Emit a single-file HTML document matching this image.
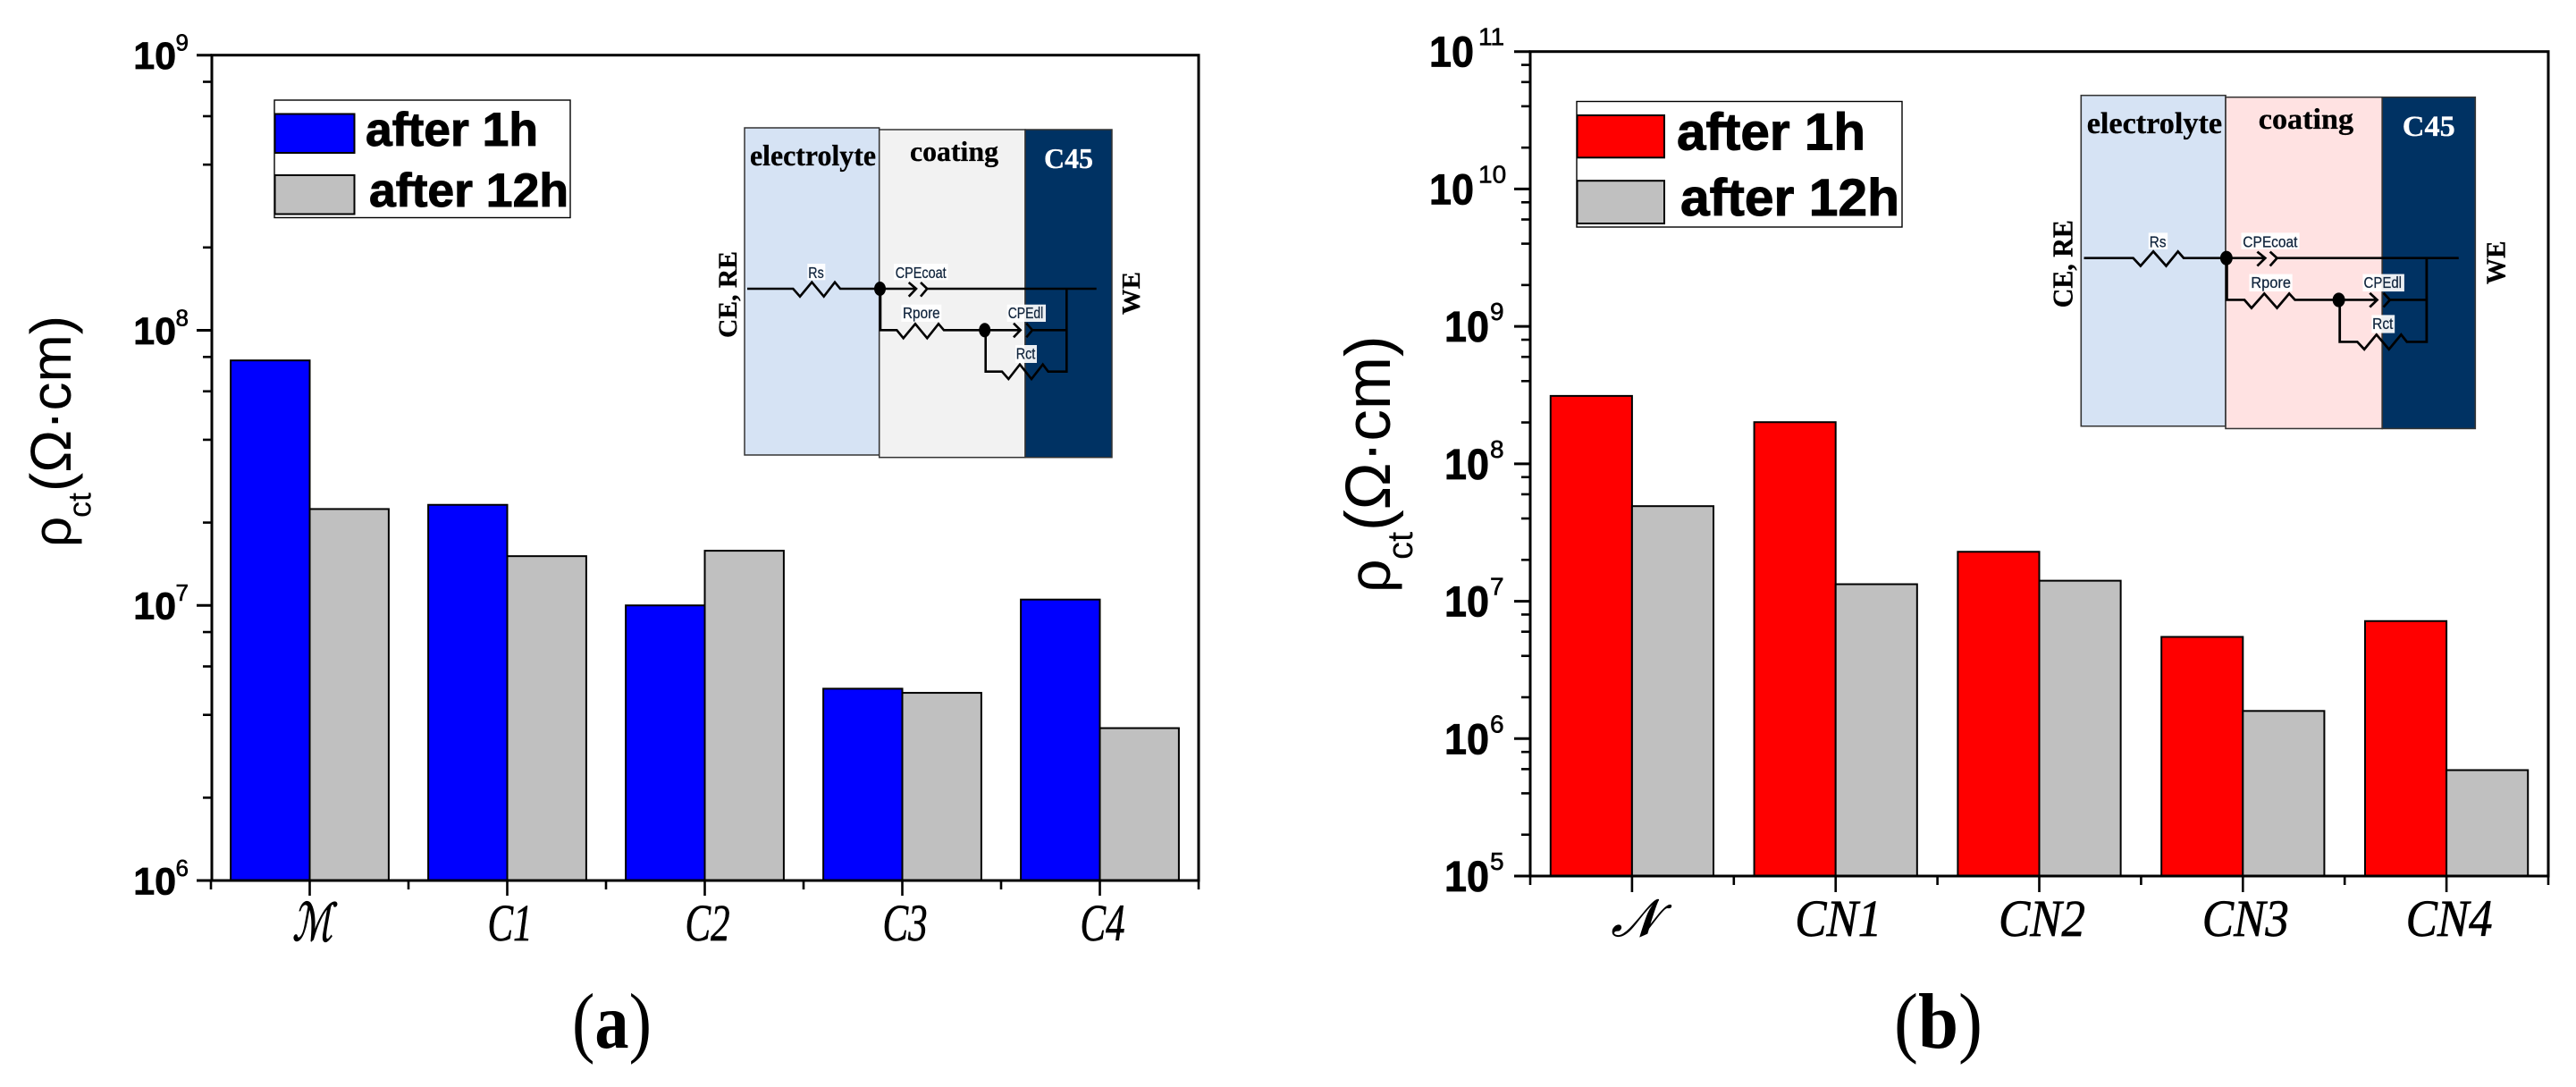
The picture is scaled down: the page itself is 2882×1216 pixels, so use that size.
<!DOCTYPE html>
<html lang="en">
<head>
<meta charset="utf-8">
<title>Charge transfer resistivity after 1h and 12h</title>
<style>
html,body{margin:0;padding:0;background:#fff;}
svg{display:block;}
.sans{font-family:"Liberation Sans",sans-serif;}
.serif{font-family:"Liberation Serif",serif;}
.legend-text{font-family:"Liberation Sans",sans-serif;font-weight:700;fill:#000;stroke:#000;stroke-width:1px;}
.wire{fill:none;stroke:#000;stroke-width:2.6;stroke-linejoin:miter;}
.elabel{font-family:"Liberation Sans",sans-serif;font-size:17.5px;fill:#10243c;stroke:#10243c;stroke-width:.25px;}
.zone{font-family:"Liberation Serif",serif;font-weight:700;stroke:currentColor;stroke-width:.3px;}
</style>
</head>
<body>
<svg id="figure" xmlns="http://www.w3.org/2000/svg" width="2882" height="1216" viewBox="0 0 2882 1216">
<rect x="0" y="0" width="2882" height="1216" fill="#fff"/>
<g id="panel-a"></g>
<g id="panel-b"></g>

<!-- Panel a annotations -->
<text class="sans" transform="translate(79 612) rotate(-90)" fill="#000"><tspan x="0" y="0" font-size="60">ρ</tspan><tspan x="33" y="22.7" font-size="36">ct</tspan><tspan x="62" y="0" font-size="64">(Ω·cm)</tspan></text>
<g>
  <rect x="307" y="112" width="331" height="131.5" fill="#fff" stroke="#000" stroke-width="1.4"/>
  <rect x="307.5" y="127.5" width="89" height="43.5" fill="#0000ff" stroke="#000" stroke-width="2"/>
  <rect x="307.5" y="196" width="89" height="43.5" fill="#c0c0c0" stroke="#000" stroke-width="2"/>
  <text class="legend-text" x="409" y="163" font-size="53" textLength="193" lengthAdjust="spacingAndGlyphs">after 1h</text>
  <text class="legend-text" x="413" y="231" font-size="53" textLength="223" lengthAdjust="spacingAndGlyphs">after 12h</text>
</g>
<text class="serif" x="640" y="1172" font-size="88" textLength="89" lengthAdjust="spacingAndGlyphs" fill="#000">(<tspan font-weight="700">a</tspan>)</text>

<g>
  <rect x="833" y="143" width="150.7" height="366" fill="#d6e3f4" stroke="#333" stroke-width="1.5"/>
  <rect x="983.7" y="145" width="163.3" height="366.7" fill="#f2f2f2" stroke="#333" stroke-width="1.5"/>
  <rect x="1147" y="145" width="97" height="366.7" fill="#003263" stroke="#333" stroke-width="1.5"/>
  <text class="zone" x="839" y="185" font-size="33" textLength="141" lengthAdjust="spacingAndGlyphs">electrolyte</text>
  <text class="zone" x="1018" y="180" font-size="32" textLength="99" lengthAdjust="spacingAndGlyphs">coating</text>
  <text class="zone" x="1168" y="188" font-size="32" textLength="55" lengthAdjust="spacingAndGlyphs" fill="#fff" color="#fff">C45</text>
  <text class="zone" transform="translate(824 378) rotate(-90)" font-size="29.5" textLength="97" lengthAdjust="spacingAndGlyphs">CE, RE</text>
  <text class="zone" transform="translate(1275 352) rotate(-90)" font-size="29" textLength="48" lengthAdjust="spacingAndGlyphs">WE</text>
  <path class="wire" d="M836 323H887.3L895 331.7 908.3 315.7 921.7 331.7 934 315.7 940 323H1025M1016.7 316L1025 323 1016.7 331.7M1030 316L1037.3 323 1030 331.7M1037.3 323H1226.7M985 323V369.3H1003.3L1010.7 378.3 1024 362.3 1037.3 378.3 1050 362.3 1056 369.3H1141.7M1134 361.7L1141.7 369.3 1134 377.3M1148.3 361.7L1155 369.3 1148.3 377.3M1155 369.3H1192.7M1102.7 369.3V415.7H1121L1128.3 424 1141 407.7 1154 424 1166.7 407.7 1172.7 415.7H1193.3V323"/>
  <ellipse cx="984.5" cy="323" rx="6.5" ry="8" fill="#000"/>
  <ellipse cx="1101.7" cy="369.3" rx="6.5" ry="8" fill="#000"/>
  <rect x="903.3" y="295" width="20" height="18.3" fill="#fff" opacity=".92"/>
  <rect x="1000" y="295" width="60.7" height="18.3" fill="#fff" opacity=".92"/>
  <rect x="1008.3" y="340.7" width="45" height="19.3" fill="#fff" opacity=".92"/>
  <rect x="1126.7" y="340.7" width="43.3" height="19.3" fill="#fff" opacity=".92"/>
  <rect x="1136" y="386" width="24" height="20" fill="#fff" opacity=".92"/>
  <text class="elabel" x="904.3" y="311" textLength="17.4" lengthAdjust="spacingAndGlyphs">Rs</text>
  <text class="elabel" x="1001.7" y="311" textLength="57" lengthAdjust="spacingAndGlyphs">CPEcoat</text>
  <text class="elabel" x="1010" y="356" textLength="41.7" lengthAdjust="spacingAndGlyphs">Rpore</text>
  <text class="elabel" x="1127.7" y="356" textLength="39.6" lengthAdjust="spacingAndGlyphs">CPEdl</text>
  <text class="elabel" x="1136.7" y="401.7" textLength="21.6" lengthAdjust="spacingAndGlyphs">Rct</text>
</g>

<!-- Panel b annotations -->
<text class="sans" transform="translate(1555 663) rotate(-90)" fill="#000"><tspan x="0" y="0" font-size="66">ρ</tspan><tspan x="37" y="25" font-size="40">ct</tspan><tspan x="69" y="0" font-size="71">(Ω·cm)</tspan></text>
<g>
  <rect x="1764" y="113.5" width="364" height="140.5" fill="#fff" stroke="#000" stroke-width="1.4"/>
  <rect x="1764.5" y="129" width="97.5" height="47.3" fill="#ff0000" stroke="#000" stroke-width="2"/>
  <rect x="1764.5" y="202.2" width="97.5" height="47.8" fill="#c0c0c0" stroke="#000" stroke-width="2"/>
  <text class="legend-text" x="1876" y="167.7" font-size="58" textLength="211" lengthAdjust="spacingAndGlyphs">after 1h</text>
  <text class="legend-text" x="1880" y="241" font-size="58" textLength="245" lengthAdjust="spacingAndGlyphs">after 12h</text>
</g>
<text class="serif" x="2119" y="1172" font-size="88" textLength="99" lengthAdjust="spacingAndGlyphs" fill="#000">(<tspan font-weight="700">b</tspan>)</text>

<g transform="translate(2328.3 106.7) scale(1.073 1.011) translate(-833 -143)">
  <rect x="833" y="143" width="150.7" height="366" fill="#d6e3f4" stroke="#333" stroke-width="1.5"/>
  <rect x="983.7" y="145" width="163.3" height="366.7" fill="#ffe2e2" stroke="#333" stroke-width="1.5"/>
  <rect x="1147" y="145" width="97" height="366.7" fill="#003263" stroke="#333" stroke-width="1.5"/>
  <text class="zone" x="839" y="185" font-size="33" textLength="141" lengthAdjust="spacingAndGlyphs">electrolyte</text>
  <text class="zone" x="1018" y="180" font-size="32" textLength="99" lengthAdjust="spacingAndGlyphs">coating</text>
  <text class="zone" x="1168" y="188" font-size="32" textLength="55" lengthAdjust="spacingAndGlyphs" fill="#fff" color="#fff">C45</text>
  <text class="zone" transform="translate(824 378) rotate(-90)" font-size="29.5" textLength="97" lengthAdjust="spacingAndGlyphs">CE, RE</text>
  <text class="zone" transform="translate(1275 352) rotate(-90)" font-size="29" textLength="48" lengthAdjust="spacingAndGlyphs">WE</text>
  <path class="wire" d="M836 323H887.3L895 331.7 908.3 315.7 921.7 331.7 934 315.7 940 323H1025M1016.7 316L1025 323 1016.7 331.7M1030 316L1037.3 323 1030 331.7M1037.3 323H1226.7M985 323V369.3H1003.3L1010.7 378.3 1024 362.3 1037.3 378.3 1050 362.3 1056 369.3H1141.7M1134 361.7L1141.7 369.3 1134 377.3M1148.3 361.7L1155 369.3 1148.3 377.3M1155 369.3H1192.7M1102.7 369.3V415.7H1121L1128.3 424 1141 407.7 1154 424 1166.7 407.7 1172.7 415.7H1193.3V323"/>
  <ellipse cx="984.5" cy="323" rx="6.5" ry="8" fill="#000"/>
  <ellipse cx="1101.7" cy="369.3" rx="6.5" ry="8" fill="#000"/>
  <rect x="903.3" y="295" width="20" height="18.3" fill="#fff" opacity=".92"/>
  <rect x="1000" y="295" width="60.7" height="18.3" fill="#fff" opacity=".92"/>
  <rect x="1008.3" y="340.7" width="45" height="19.3" fill="#fff" opacity=".92"/>
  <rect x="1126.7" y="340.7" width="43.3" height="19.3" fill="#fff" opacity=".92"/>
  <rect x="1136" y="386" width="24" height="20" fill="#fff" opacity=".92"/>
  <text class="elabel" x="904.3" y="311" textLength="17.4" lengthAdjust="spacingAndGlyphs">Rs</text>
  <text class="elabel" x="1001.7" y="311" textLength="57" lengthAdjust="spacingAndGlyphs">CPEcoat</text>
  <text class="elabel" x="1010" y="356" textLength="41.7" lengthAdjust="spacingAndGlyphs">Rpore</text>
  <text class="elabel" x="1127.7" y="356" textLength="39.6" lengthAdjust="spacingAndGlyphs">CPEdl</text>
  <text class="elabel" x="1136.7" y="401.7" textLength="21.6" lengthAdjust="spacingAndGlyphs">Rct</text>
</g>
</svg>

<script>
// Panel (a) data
const categoriesA = ['ℳ', 'C1', 'C2', 'C3', 'C4'];
const after1hA = [7.77e7, 2.32e7, 1.0e7, 4.98e6, 1.05e7];
const after12hA = [2.24e7, 1.51e7, 1.58e7, 4.81e6, 3.58e6];
const tickExponentsA = [6, 7, 8, 9];

// Panel (b) data
const categoriesB = ['𝒩', 'CN1', 'CN2', 'CN3', 'CN4'];
const after1hB = [3.12e8, 2.01e8, 2.29e7, 5.5e6, 7.17e6];
const after12hB = [4.92e7, 1.33e7, 1.41e7, 1.59e6, 5.9e5];
const tickExponentsB = [5, 6, 7, 8, 9, 10, 11];

// Log-axis minor tick multipliers
const minorMultipliers = [2, 4, 6, 8];

const NS = 'http://www.w3.org/2000/svg';
function mk(parent, tag, attrs, text) {
  const el = document.createElementNS(NS, tag);
  for (const k in attrs) el.setAttribute(k, attrs[k]);
  if (text !== undefined) el.textContent = text;
  parent.appendChild(el);
  return el;
}

function drawPanel(cfg) {
  const g = document.getElementById(cfg.id);
  const minE = cfg.exponents[0];
  const maxE = cfg.exponents[cfg.exponents.length - 1];
  const yScale = function (v) {
    return cfg.bottom - (Math.log10(v) - minE) / (maxE - minE) * (cfg.bottom - cfg.top);
  };
  const catW = (cfg.xRight - cfg.xStart) / cfg.categories.length;
  const xCenter = function (i) { return cfg.xStart + (i + 0.5) * catW; };
  const barW = catW * 0.4;
  const base = Math.pow(10, minE);

  // bars
  cfg.categories.forEach(function (c, i) {
    const y1 = yScale(cfg.series1[i]);
    const b1 = mk(g, 'rect', { x: xCenter(i) - barW, y: y1, width: barW, height: yScale(base) - y1, fill: cfg.color, stroke: '#000', 'stroke-width': 2 });
    
    
    const y2 = yScale(cfg.series2[i]);
    const b2 = mk(g, 'rect', { x: xCenter(i), y: y2, width: barW, height: yScale(base) - y2, fill: '#c0c0c0', stroke: '#000', 'stroke-width': 2 });
    
    
  });

  // plot frame
  const frame = mk(g, 'rect', { x: cfg.left, y: cfg.top, width: cfg.right - cfg.left, height: cfg.bottom - cfg.top, fill: 'none', stroke: '#000', 'stroke-width': 3 });
  
  

  // y ticks and labels
  cfg.exponents.forEach(function (e) {
    const y = yScale(Math.pow(10, e));
    const t = mk(g, 'line', { x1: cfg.left - cfg.majorLen, x2: cfg.left, y1: y, y2: y, stroke: '#000', 'stroke-width': 3 });
    
    
    const wide = e >= 10;
    const lab = mk(g, 'text', { x: cfg.labelRight - (wide ? cfg.wideShift : 0), y: y + cfg.labelDrop, 'text-anchor': 'end', 'font-family': '"Liberation Sans",sans-serif', 'font-weight': 700, 'font-size': cfg.labelSize, textLength: cfg.labelW, lengthAdjust: 'spacingAndGlyphs', stroke: '#000', 'stroke-width': 0.8, fill: '#000' }, '10');
    
    
    const sup = mk(g, 'text', { x: cfg.supLeft - (wide ? cfg.wideSupShift : 0), y: y + cfg.supDrop, 'font-family': '"Liberation Sans",sans-serif', 'font-size': cfg.supSize, stroke: '#000', 'stroke-width': 0.6, fill: '#000' }, String(e));
    
    
    if (e < maxE) {
      minorMultipliers.forEach(function (m) {
        const ym = yScale(m * Math.pow(10, e));
        const mt = mk(g, 'line', { x1: cfg.left - cfg.minorLen, x2: cfg.left, y1: ym, y2: ym, stroke: '#000', 'stroke-width': 2.6 });
        
        
      });
    }
  });

  // x ticks and labels
  cfg.categories.forEach(function (c, i) {
    const xc = xCenter(i);
    const t = mk(g, 'line', { x1: xc, x2: xc, y1: cfg.bottom, y2: cfg.bottom + cfg.majorLen, stroke: '#000', 'stroke-width': 2.6 });
    
    
    const lab = mk(g, 'text', { x: xc + cfg.catLabelShift - cfg.catLabelWidths[i] / 2, y: cfg.bottom + 67, 'font-family': '"Liberation Serif","DejaVu Serif",serif', 'font-style': 'italic', 'font-size': 58, fill: '#000', stroke: '#000', 'stroke-width': i === 0 ? 1.1 : 0.7, textLength: cfg.catLabelWidths[i], lengthAdjust: 'spacingAndGlyphs' }, c);
    
    
  });
  for (let i = 0; i <= cfg.categories.length; i++) {
    const xb = cfg.xStart + i * catW;
    const mt = mk(g, 'line', { x1: xb, x2: xb, y1: cfg.bottom, y2: cfg.bottom + cfg.minorLen, stroke: '#000', 'stroke-width': 2.6 });
    
    
  }
}

drawPanel({
  id: 'panel-a', categories: categoriesA, series1: after1hA, series2: after12hA, exponents: tickExponentsA, color: '#0000ff',
  left: 237, right: 1341, top: 61.7, bottom: 985, xStart: 236, xRight: 1341,
  majorLen: 17, minorLen: 10, labelRight: 197, labelDrop: 15.5, labelSize: 43, labelW: 47.8, supLeft: 196.5, supDrop: -5, supSize: 26,
  wideShift: 17, wideSupShift: 10, catLabelShift: 3, catLabelWidths: [45, 50, 50, 50, 50]
});
drawPanel({
  id: 'panel-b', categories: categoriesB, series1: after1hB, series2: after12hB, exponents: tickExponentsB, color: '#ff0000',
  left: 1712, right: 2851, top: 57.7, bottom: 980, xStart: 1712, xRight: 2851,
  majorLen: 18, minorLen: 10, labelRight: 1666, labelDrop: 17, labelSize: 48, labelW: 50, supLeft: 1667, supDrop: -7, supSize: 28,
  wideShift: 17, wideSupShift: 13, catLabelShift: 3, catLabelWidths: [52, 97, 97, 97, 97]
});
</script>
</body>
</html>
